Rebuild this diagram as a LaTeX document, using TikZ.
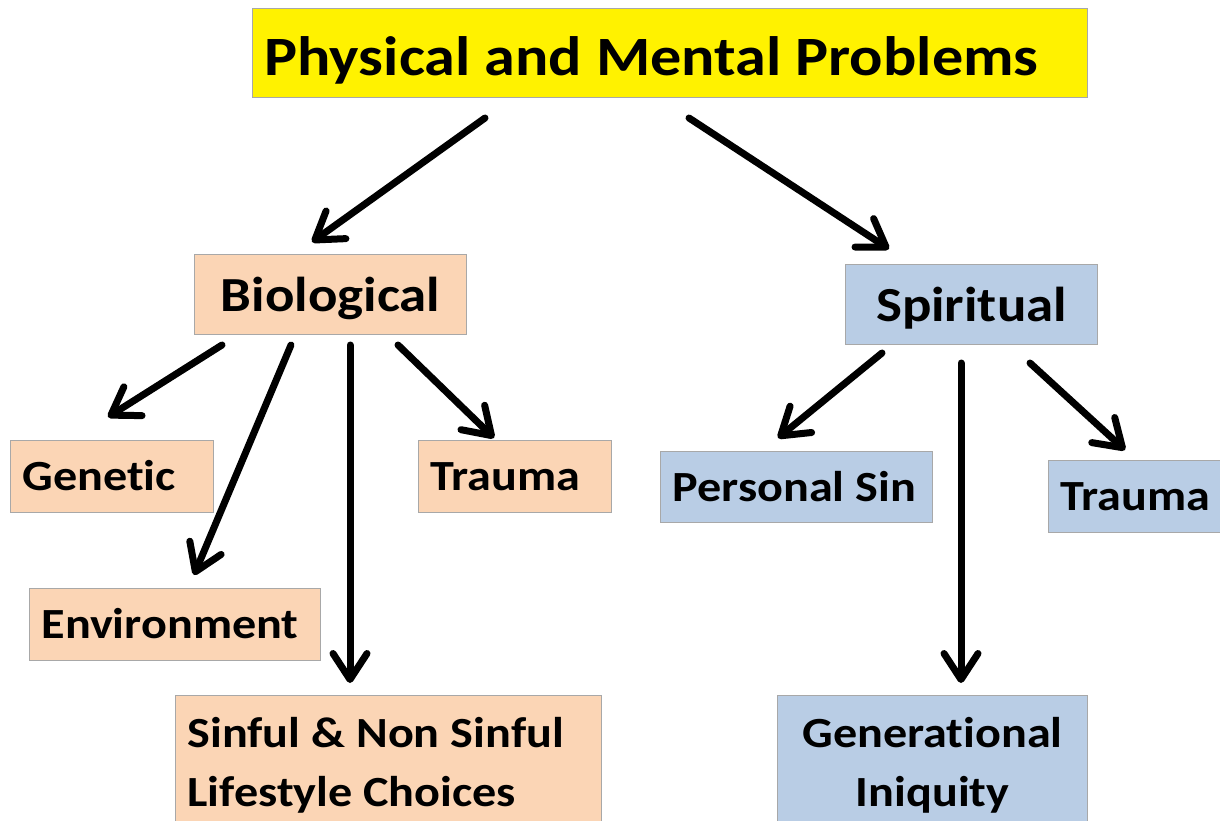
\documentclass[tikz,border=0pt]{standalone}
\usepackage{fontspec}
\setmainfont{Carlito}[FakeStretch=1.12, Ligatures=NoCommon]
\usetikzlibrary{arrows.meta}
\definecolor{peach}{HTML}{FBD5B5}
\definecolor{skyblue}{HTML}{B9CDE5}
\definecolor{boxline}{HTML}{A8A8A8}
\tikzset{
  box/.style={draw=boxline, line width=1pt, rectangle, anchor=north west,
    inner xsep=12pt, inner ysep=0pt, align=flush left,
    font=\bfseries\fontsize{43}{59}\selectfont},
  big/.style={font=\bfseries\fontsize{49}{59}\selectfont, align=flush center},
  bio/.style={box, fill=peach},
  spir/.style={box, fill=skyblue},
  arr/.style={line width=7pt, line cap=round, line join=round,
    -{Straight Barb[length=26pt,width=34pt,round]}}
}
\begin{document}
\begin{tikzpicture}[x=1pt,y=-1pt]
\useasboundingbox (0,0) rectangle (1220,821);
\clip (0,0) rectangle (1220,821);
% top heading
\node[box, fill=yellow, text width=811, text height=67, text depth=22,
  font=\bfseries\fontsize{55.5}{66}\selectfont] (title) at (252,8) {Physical and Mental Problems};
% second level
\node[bio, big, text width=248, text height=57, text depth=23] (bio) at (194,254) {Biological};
\node[spir, big, text width=228, text height=57, text depth=23] (spi) at (845,264) {Spiritual};
% biological causes
\node[bio, text width=179, text height=50, text depth=22] (gen) at (10,440) {Genetic};
\node[bio, text width=169, text height=50, text depth=22] (tra1) at (418,440) {Trauma};
\node[bio, text width=267, text height=50, text depth=22] (env) at (29,588) {Environment};
\node[bio, text width=402, text height=52, text depth=90] (sin) at (175,695) {Sinful \& Non Sinful\\Lifestyle Choices};
% spiritual causes
\node[spir, text width=248, text height=50, text depth=21] (per) at (660,451) {Personal Sin};
\node[spir, text width=166, text height=50, text depth=22] (tra2) at (1048,460) {Trauma};
\node[spir, text width=286, text height=52, text depth=90, align=flush center] (gi) at (777,695) {Generational\\Iniquity};
% connectors
\draw[arr] ([shift={(233,20)}]title.south west) -- ([shift={(118,-12)}]bio.north west);
\draw[arr] ([shift={(437,20)}]title.south west) -- ([shift={(44,-15)}]spi.north west);
\draw[arr] ([shift={(28,10)}]bio.south west) -- ([shift={(98,-23)}]gen.north west);
\draw[arr] ([shift={(97,10)}]bio.south west) -- ([shift={(165,-13)}]env.north west);
\draw[arr] ([shift={(156,10)}]bio.south west) -- ([shift={(175,-12)}]sin.north west);
\draw[arr] ([shift={(204,10)}]bio.south west) -- ([shift={(76,-2)}]tra1.north west);
\draw[arr] ([shift={(37,8)}]spi.south west) -- ([shift={(118,-13)}]per.north west);
\draw[arr] ([shift={(116,18)}]spi.south west) -- ([shift={(184,-12)}]gi.north west);
\draw[arr] ([shift={(185,18)}]spi.south west) -- ([shift={(77,-10)}]tra2.north west);
\end{tikzpicture}
\end{document}
